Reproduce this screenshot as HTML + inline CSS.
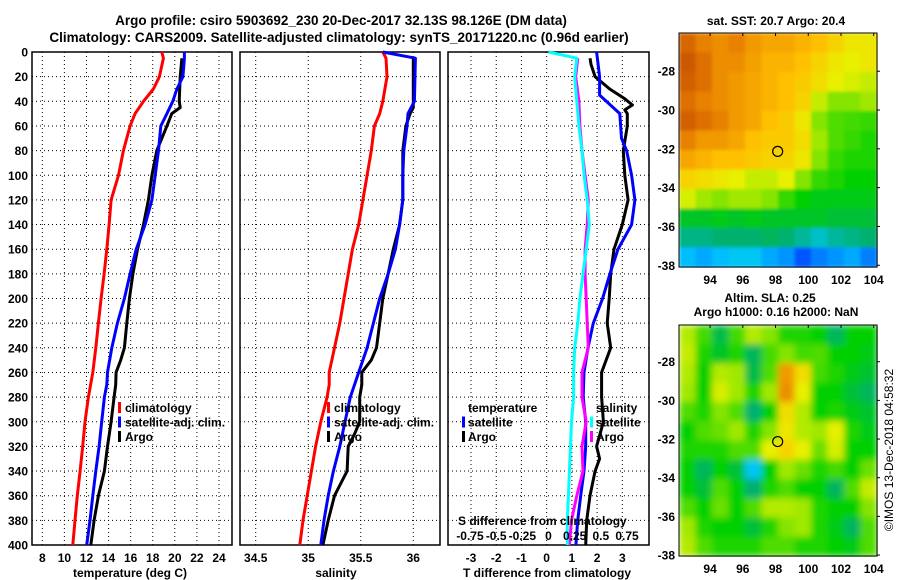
<!DOCTYPE html>
<html><head><meta charset="utf-8"><style>
body{margin:0;background:#fff}
svg{display:block;font-family:"Liberation Sans",sans-serif;font-weight:bold}
</style></head><body>
<svg id="fig" width="900" height="580" viewBox="0 0 900 580">
<defs>
<filter id="blurSla" x="0" y="0" width="1" height="1"><feGaussianBlur stdDeviation="3.5" edgeMode="duplicate"/></filter>
<filter id="blurSst" x="0" y="0" width="1" height="1"><feGaussianBlur stdDeviation="1.5" edgeMode="duplicate"/></filter>
</defs>
<text x="341" y="25" font-size="13.5" text-anchor="middle">Argo profile: csiro 5903692_230 20-Dec-2017 32.13S 98.126E (DM data)</text>
<text x="339" y="42" font-size="13.5" text-anchor="middle">Climatology: CARS2009. Satellite-adjusted climatology: synTS_20171220.nc (0.96d earlier)</text>
<text x="776" y="25" font-size="12" text-anchor="middle">sat. SST: 20.7 Argo: 20.4</text>
<text x="770" y="302" font-size="12" text-anchor="middle">Altim. SLA: 0.25</text>
<text x="776" y="316" font-size="12" text-anchor="middle">Argo h1000: 0.16 h2000: NaN</text>
<text transform="translate(893,450) rotate(-90)" font-size="12" font-weight="normal" text-anchor="middle">©IMOS 13-Dec-2018 04:58:32</text>
<g id="g"></g>
</svg>
<script>
// ---- data ----
const depthTicks = [0,20,40,60,80,100,120,140,160,180,200,220,240,260,280,300,320,340,360,380,400];
const tempTicks = [8,10,12,14,16,18,20,22,24];
const salTicks = [34.5,35,35.5,36];
const salTickLabels = ["34.5","35","35.5","36"];
const tDiffTicks = [-3,-2,-1,0,1,2,3];
const sDiffTicks = [-0.75,-0.5,-0.25,0,0.25,0.5,0.75];
const sDiffTickLabels = ["-0.75","-0.5","-0.25","0","0.25","0.5","0.75"];

const tClimDepth = [0,5,20,30,40,50,60,80,100,120,140,160,180,200,220,240,260,280,300,320,340,360,380,400];
const tClim = [18.82,18.97,18.6,18.06,17.16,16.4,15.95,15.34,14.9,14.23,14.05,13.84,13.6,13.32,13.08,12.84,12.57,12.17,11.87,11.66,11.42,11.17,10.96,10.76];
const tSatDepth = [0,5,20,30,40,50,60,80,100,120,140,160,180,200,220,240,260,270,280,300,320,340,360,380,400];
const tSat = [20.87,20.87,20.73,20.19,19.82,19.28,18.73,18.52,18.22,17.92,17.31,16.5,15.95,15.43,14.8,14.29,13.9,13.84,13.62,13.38,13.14,12.84,12.57,12.32,12.02];
const tArgoDepth = [5,20,40,45,50,60,80,100,120,140,160,180,200,220,240,250,260,270,280,300,320,340,360,380,400];
const tArgo = [20.64,20.49,20.4,20.49,19.73,19.28,18.37,17.92,17.61,17.16,16.62,16.2,15.89,15.65,15.43,15.1,14.68,14.65,14.5,14.23,13.9,13.62,13.08,12.69,12.39];

const sClimDepth = [0,5,20,40,50,60,80,100,120,140,160,180,200,220,240,260,270,280,300,320,340,360,380,400];
const sClim = [35.71,35.74,35.75,35.71,35.68,35.63,35.6,35.56,35.52,35.48,35.42,35.38,35.34,35.3,35.25,35.2,35.2,35.18,35.12,35.07,35.03,34.99,34.95,34.92];
const sSatDepth = [0,5,40,50,60,80,100,120,140,160,180,200,220,240,260,270,280,300,320,340,360,380,400];
const sSat = [35.71,36.02,36.01,35.95,35.94,35.91,35.9,35.9,35.87,35.83,35.76,35.68,35.62,35.56,35.48,35.44,35.4,35.35,35.3,35.24,35.19,35.15,35.12];
const sArgoDepth = [5,45,50,60,80,100,120,140,160,180,200,220,240,250,260,270,280,300,310,320,340,360,380,400];
const sArgo = [36.0,36.0,35.97,35.93,35.9,35.9,35.9,35.87,35.81,35.76,35.71,35.68,35.65,35.6,35.51,35.51,35.49,35.49,35.44,35.38,35.37,35.25,35.19,35.14];

const dTSatDepth = [0,20,30,35,50,70,80,100,120,140,160,180,200,220,240,260,280,300,320,340,360,380,400];
const dTSat = [1.98,2.1,2.1,2.1,2.9,2.97,3.17,3.37,3.5,3.37,2.83,2.51,2.22,1.85,1.64,1.48,1.45,1.55,1.55,1.48,1.35,1.23,1.16];
const dTArgoDepth = [5,10,20,30,38,43,47,50,60,80,100,120,140,160,180,200,220,240,260,280,300,320,330,340,360,380,400];
const dTArgo = [1.72,1.76,1.92,2.5,3.1,3.4,3.1,3.2,3.2,3.04,3.1,3.23,3.0,2.67,2.54,2.48,2.4,2.54,2.18,2.18,2.25,1.98,2.1,1.92,1.72,1.59,1.55];
const dSSatDepth = [0,5,20,40,60,80,100,120,140,160,180,200,220,240,260,280,300,320,340,360,380,400];
const dSSat = [0,0.27,0.25,0.27,0.29,0.32,0.34,0.37,0.39,0.36,0.33,0.30,0.28,0.25,0.24,0.24,0.22,0.21,0.20,0.19,0.18,0.18];
const dSArgoDepth = [5,20,40,60,80,100,120,140,160,180,200,220,240,260,280,300,320,340,360,380,400];
const dSArgo = [0.28,0.26,0.29,0.30,0.32,0.35,0.38,0.37,0.35,0.35,0.36,0.37,0.38,0.32,0.32,0.36,0.32,0.33,0.27,0.22,0.20];

const lonTicks = [94,96,98,100,102,104];
const latTicks = [-28,-30,-32,-34,-36,-38];
const argoLon = 98.13, argoLat = -32.13;
const sstGrid = [
[0.93,0.9,0.88,0.9,0.86,0.84,0.84,0.82,0.8,0.76,0.72,0.72],
[0.95,0.92,0.88,0.88,0.85,0.82,0.82,0.8,0.76,0.72,0.7,0.72],
[0.94,0.92,0.88,0.86,0.84,0.82,0.8,0.78,0.74,0.7,0.68,0.66],
[0.92,0.9,0.88,0.86,0.84,0.82,0.8,0.76,0.66,0.6,0.6,0.62],
[0.94,0.92,0.9,0.86,0.84,0.8,0.78,0.72,0.6,0.56,0.55,0.54],
[0.9,0.86,0.86,0.84,0.8,0.78,0.78,0.74,0.62,0.56,0.54,0.52],
[0.84,0.82,0.8,0.8,0.78,0.76,0.76,0.72,0.6,0.54,0.52,0.52],
[0.76,0.74,0.72,0.7,0.66,0.66,0.7,0.6,0.54,0.52,0.5,0.5],
[0.68,0.62,0.6,0.62,0.62,0.6,0.54,0.5,0.48,0.48,0.48,0.48],
[0.46,0.46,0.48,0.46,0.48,0.46,0.46,0.46,0.46,0.44,0.44,0.44],
[0.36,0.36,0.38,0.38,0.38,0.4,0.38,0.34,0.3,0.34,0.36,0.38],
[0.24,0.22,0.24,0.26,0.26,0.22,0.2,0.14,0.18,0.2,0.22,0.18]];
const slaGrid = [
[0.64,0.55,0.42,0.55,0.64,0.6,0.52,0.52,0.5,0.4,0.5,0.5],
[0.66,0.52,0.46,0.52,0.4,0.55,0.6,0.55,0.56,0.5,0.5,0.48],
[0.64,0.5,0.64,0.62,0.42,0.56,0.86,0.74,0.55,0.52,0.48,0.45],
[0.62,0.5,0.68,0.62,0.52,0.62,0.88,0.7,0.5,0.5,0.44,0.4],
[0.56,0.52,0.6,0.56,0.38,0.5,0.74,0.64,0.5,0.52,0.48,0.45],
[0.5,0.56,0.58,0.62,0.52,0.6,0.72,0.64,0.62,0.7,0.52,0.48],
[0.52,0.52,0.52,0.56,0.56,0.7,0.76,0.7,0.58,0.68,0.5,0.5],
[0.5,0.4,0.5,0.44,0.26,0.5,0.62,0.58,0.52,0.55,0.5,0.58],
[0.5,0.44,0.56,0.5,0.38,0.52,0.56,0.5,0.5,0.4,0.56,0.66],
[0.56,0.5,0.58,0.5,0.56,0.64,0.64,0.62,0.52,0.5,0.5,0.6],
[0.62,0.52,0.5,0.5,0.44,0.52,0.6,0.62,0.52,0.48,0.4,0.56],
[0.64,0.56,0.52,0.52,0.52,0.56,0.56,0.52,0.52,0.5,0.48,0.56]];

// ---- helpers ----
const NS = "http://www.w3.org/2000/svg";
const G = document.getElementById('g');
function el(tag, attrs, parent){ const e=document.createElementNS(NS,tag); for(const k in attrs) e.setAttribute(k,attrs[k]); (parent||G).appendChild(e); return e; }
function lin(d0,d1,r0,r1){ return v => r0 + (v-d0)*(r1-r0)/(d1-d0); }
const TOP=52, BOT=545;
const yD = lin(0,400,TOP,BOT);
const panels = [
  {x0:32,x1:232,sx:lin(8,24,42.3,219)},
  {x0:240,x1:440,sx:lin(34.5,36,255.7,413.3)},
  {x0:448,x1:649,sx:lin(-3,3,471,622.3)}
];
const sxS = lin(-0.75,0.75,470,627);

function frame(p,name){
  const r = el('rect',{x:p.x0,y:TOP,width:p.x1-p.x0,height:BOT-TOP,fill:'none',stroke:'#000','stroke-width':1.5});
  
  
  depthTicks.forEach(d=>{
    const l = el('line',{x1:p.x0,x2:p.x1,y1:yD(d),y2:yD(d),stroke:'#000','stroke-width':1,'stroke-dasharray':'1,3'});
    
    
  });
}
function vgrid(p,ticks,labels,name){
  ticks.forEach((t,i)=>{
    const x=p.sx(t);
    const l = el('line',{x1:x,x2:x,y1:TOP,y2:BOT,stroke:'#000','stroke-width':1,'stroke-dasharray':'1,3'});
    
    
    const tx = el('text',{x:x,y:562,'font-size':12,'text-anchor':'middle'});
    tx.textContent = labels? labels[i] : String(t);
    
    
  });
}
function series(p,depths,vals,color,name,sx,w){
  const f = sx||p.sx;
  const pts = vals.map((v,i)=>f(v).toFixed(1)+','+yD(depths[i]).toFixed(1)).join(' ');
  const pl = el('polyline',{points:pts,fill:'none',stroke:color,'stroke-width':w||3,'stroke-linejoin':'round'});
  
  
}
function txt(x,y,s,name,size,anchor){
  const t = el('text',{x:x,y:y,'font-size':size||12,'text-anchor':anchor||'start'});
  t.textContent = s;
  
  
  return t;
}
function legMark(x,y,color,name){
  const r = el('rect',{x:x,y:y-10,width:3,height:11,fill:color});
  
  
}

// panels
frame(panels[0],'temperature-panel');
vgrid(panels[0],tempTicks,null,'temperature');
frame(panels[1],'salinity-panel');
vgrid(panels[1],salTicks,salTickLabels,'salinity');
frame(panels[2],'difference-panel');
vgrid(panels[2],tDiffTicks,null,'t-difference');

depthTicks.forEach(d=>{
  txt(28,yD(d)+4.5,String(d),'depth-tick-label',12,'end');
});
txt(130,577,'temperature (deg C)','temperature-axis-title',12,'middle');
txt(336,577,'salinity','salinity-axis-title',12,'middle');
txt(547,577,'T difference from climatology','t-difference-axis-title',12,'middle');

// series
series(panels[0],tClimDepth,tClim,'#ff0000','temperature-climatology-line');
series(panels[0],tArgoDepth,tArgo,'#000000','temperature-argo-line');
series(panels[0],tSatDepth,tSat,'#0000ff','temperature-satellite-line');
series(panels[1],sClimDepth,sClim,'#ff0000','salinity-climatology-line');
series(panels[1],sArgoDepth,sArgo,'#000000','salinity-argo-line');
series(panels[1],sSatDepth,sSat,'#0000ff','salinity-satellite-line');
series(panels[2],dTArgoDepth,dTArgo,'#000000','t-diff-argo-line');
series(panels[2],dTSatDepth,dTSat,'#0000ff','t-diff-satellite-line');
series(panels[2],dSArgoDepth,dSArgo,'#ff00ff','s-diff-argo-line',sxS);
series(panels[2],dSSatDepth,dSSat,'#00ffff','s-diff-satellite-line',sxS);

// legends
[[0,'climatology','#ff0000'],[1,'satellite-adj. clim.','#0000ff'],[2,'Argo','#000000']].forEach(([i,s,c])=>{
  legMark(118,412+i*14.5,c,'temperature-legend-marker');
  txt(125,412+i*14.5,s,'temperature-legend-entry');
  legMark(327,412+i*14.5,c,'salinity-legend-marker');
  txt(334,412+i*14.5,s,'salinity-legend-entry');
});
txt(468,412,'temperature','t-diff-legend-title');
legMark(462,426.5,'#0000ff','t-diff-legend-marker');
txt(468,426.5,'satellite','t-diff-legend-entry');
legMark(462,441,'#000000','t-diff-legend-marker');
txt(468,441,'Argo','t-diff-legend-entry');
txt(596,412,'salinity','s-diff-legend-title');
legMark(590,426.5,'#00ffff','s-diff-legend-marker');
txt(596,426.5,'satellite','s-diff-legend-entry');
legMark(590,441,'#ff00ff','s-diff-legend-marker');
txt(596,441,'Argo','s-diff-legend-entry');
txt(458,525,'S difference from climatology','s-difference-axis-title');
sDiffTicks.forEach((t,i)=>{
  txt(sxS(t),540,sDiffTickLabels[i],'s-difference-tick-label',12,'middle');
});

// maps
const cmapStops=[[0,[0,0,140]],[0.12,[0,64,255]],[0.25,[0,200,255]],[0.38,[0,176,110]],[0.5,[0,208,0]],[0.62,[160,232,0]],[0.7,[232,240,0]],[0.8,[255,192,0]],[0.9,[232,128,0]],[1,[176,48,0]]];
function cmap(v){
  for(let i=1;i<cmapStops.length;i++){
    if(v<=cmapStops[i][0]){
      const [a,ca]=cmapStops[i-1],[b,cb]=cmapStops[i];const t=(v-a)/(b-a);
      return 'rgb('+ca.map((c,k)=>Math.round(c+(cb[k]-c)*t)).join(',')+')';
    }
  }
  return 'rgb(176,48,0)';
}
function drawMap(grid,mx0,mx1,my0,my1,lat0,lat1,name,filt){
  const lonS = lin(92.1,104.2,mx0,mx1), latS = lin(lat0,lat1,my0,my1);
  const rows=grid.length, cols=grid[0].length;
  const cw=(mx1-mx0)/cols, ch=(my1-my0)/rows;
  const cg = el('g',{filter:'url(#'+filt+')'});
  
  
  grid.forEach((row,r)=>row.forEach((v,c)=>{
    const cell = el('rect',{x:mx0+c*cw,y:my0+r*ch,width:cw+0.6,height:ch+0.6,fill:cmap(v)},cg);
    
    
  }));
  const fr = el('rect',{x:mx0,y:my0,width:mx1-mx0,height:my1-my0,fill:'none',stroke:'#000','stroke-width':1});
  
  
  lonTicks.forEach(t=>{
    txt(lonS(t),my1+17,String(t),name+'-lon-tick-label',12,'middle');
    const tk = el('line',{x1:lonS(t),x2:lonS(t),y1:my0,y2:my0+3,stroke:'#000'});
    
    
  });
  latTicks.forEach(t=>{
    txt(mx0-4,latS(t)+4.5,String(t),name+'-lat-tick-label',12,'end');
    const tk = el('line',{x1:mx1,x2:mx1+3,y1:latS(t),y2:latS(t),stroke:'#000'});
    
    
  });
  const c = el('circle',{cx:lonS(argoLon),cy:latS(argoLat),r:5,fill:'none',stroke:'#000','stroke-width':1.2});
  
  
}
drawMap(sstGrid,679,877,33,267,-26.03,-38.09,'sst-map','blurSst');
drawMap(slaGrid,679,877,325,556,-26.1,-38.05,'sla-map','blurSla');
</script>
</body></html>
